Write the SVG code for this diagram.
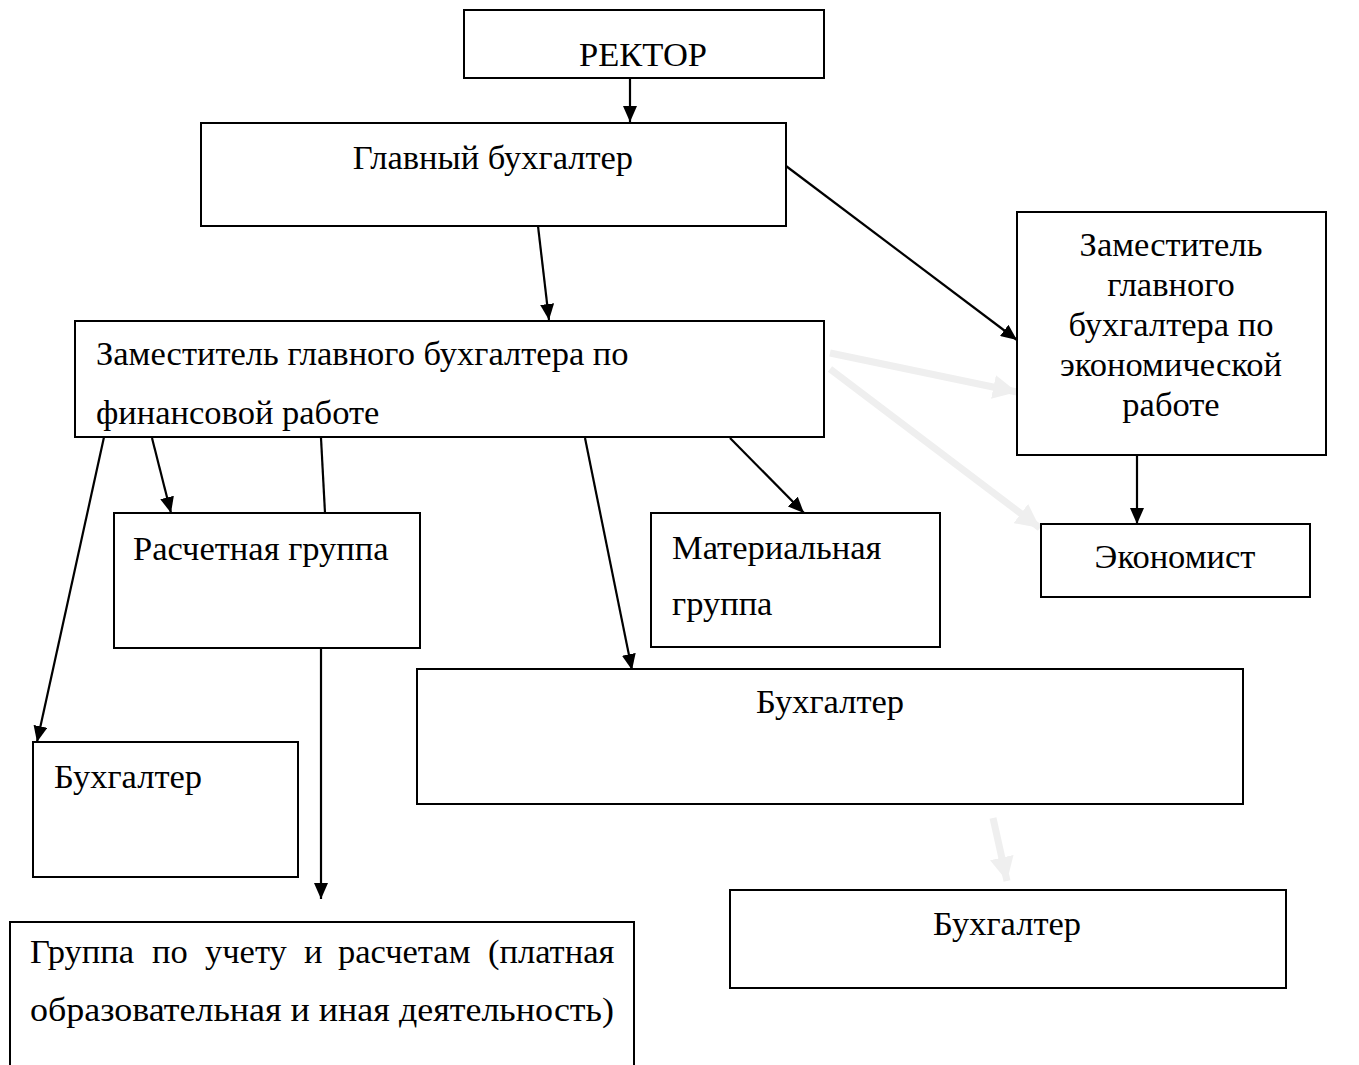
<svg xmlns="http://www.w3.org/2000/svg" width="1359" height="1065" viewBox="0 0 1359 1065">
<style>
.box{fill:#fff;stroke:#000;stroke-width:2}
.t{font-family:"Liberation Serif","Times New Roman",serif;font-size:34.5px;fill:#000}
.c{text-anchor:middle}
.ln{stroke:#000;stroke-width:2.2;fill:none}
.lt{stroke:#efefef;stroke-width:7;fill:none}
</style>
<defs>
<marker id="ah" markerUnits="userSpaceOnUse" markerWidth="16" markerHeight="14" refX="16" refY="7" orient="auto">
<path d="M0,0 L16,7 L0,14 Z" fill="#000"/>
</marker>
<marker id="ahl" markerUnits="userSpaceOnUse" markerWidth="24" markerHeight="24" refX="24" refY="12" orient="auto">
<path d="M0,0 L24,12 L0,24 Z" fill="#efefef"/>
</marker>
</defs>
<rect width="1359" height="1065" fill="#fff"/>
<g id="connectors">
<line class="ln" x1="630" y1="78" x2="630" y2="122" marker-end="url(#ah)"/>
<line class="ln" x1="538" y1="226" x2="549" y2="320" marker-end="url(#ah)"/>
<line class="ln" x1="786" y1="166" x2="1017" y2="340" marker-end="url(#ah)"/>
<line class="ln" x1="106" y1="428" x2="37" y2="742" marker-end="url(#ah)"/>
<line class="ln" x1="152" y1="438" x2="171" y2="513" marker-end="url(#ah)"/>
<line class="ln" x1="321" y1="438" x2="325" y2="513"/>
<line class="ln" x1="585" y1="438" x2="632" y2="670" marker-end="url(#ah)"/>
<line class="ln" x1="730" y1="438" x2="804" y2="513" marker-end="url(#ah)"/>
<line class="ln" x1="1137" y1="455" x2="1137" y2="524" marker-end="url(#ah)"/>
<line class="ln" x1="321" y1="648" x2="321" y2="899" marker-end="url(#ah)"/>
<line class="lt" x1="830" y1="353" x2="1017" y2="392" marker-end="url(#ahl)"/>
<line class="lt" x1="830" y1="369" x2="1040" y2="528" marker-end="url(#ahl)"/>
<line class="lt" x1="993" y1="818" x2="1007" y2="881" marker-end="url(#ahl)"/>
</g>
<g id="rector"><rect class="box" x="464" y="10" width="360" height="68"/><text class="t c" x="643" y="66">РЕКТОР</text></g>
<g id="chief"><rect class="box" x="201" y="123" width="585" height="103"/><text class="t c" x="493" y="169">Главный бухгалтер</text></g>
<g id="deputy-fin"><rect class="box" x="75" y="321" width="749" height="116"/>
<text class="t" x="96" y="365">Заместитель главного бухгалтера по</text>
<text class="t" x="96" y="424">финансовой работе</text></g>
<g id="deputy-econ"><rect class="box" x="1017" y="212" width="309" height="243"/>
<text class="t c" x="1171" y="256">Заместитель</text>
<text class="t c" x="1171" y="296">главного</text>
<text class="t c" x="1171" y="336">бухгалтера по</text>
<text class="t c" x="1171" y="376">экономической</text>
<text class="t c" x="1171" y="416">работе</text></g>
<g id="raschet"><rect class="box" x="114" y="513" width="306" height="135"/><text class="t" x="133" y="560">Расчетная группа</text></g>
<g id="material"><rect class="box" x="651" y="513" width="289" height="134"/>
<text class="t" x="672" y="559">Материальная</text>
<text class="t" x="672" y="615">группа</text></g>
<g id="economist"><rect class="box" x="1041" y="524" width="269" height="73"/><text class="t c" x="1175" y="568">Экономист</text></g>
<g id="accountant-mid"><rect class="box" x="417" y="669" width="826" height="135"/><text class="t c" x="830" y="713">Бухгалтер</text></g>
<g id="accountant-left"><rect class="box" x="33" y="742" width="265" height="135"/><text class="t" x="54" y="788">Бухгалтер</text></g>
<g id="accountant-bottom"><rect class="box" x="730" y="890" width="556" height="98"/><text class="t c" x="1007" y="935">Бухгалтер</text></g>
<g id="group-paid"><rect class="box" x="10" y="922" width="624" height="160"/>
<text class="t" y="963"><tspan x="30">Группа</tspan><tspan x="152">по</tspan><tspan x="205">учету</tspan><tspan x="304">и</tspan><tspan x="338">расчетам</tspan><tspan x="488">(платная</tspan></text>
<text class="t" x="30" y="1021" textLength="584" lengthAdjust="spacingAndGlyphs">образовательная и иная деятельность)</text></g>
</svg>
